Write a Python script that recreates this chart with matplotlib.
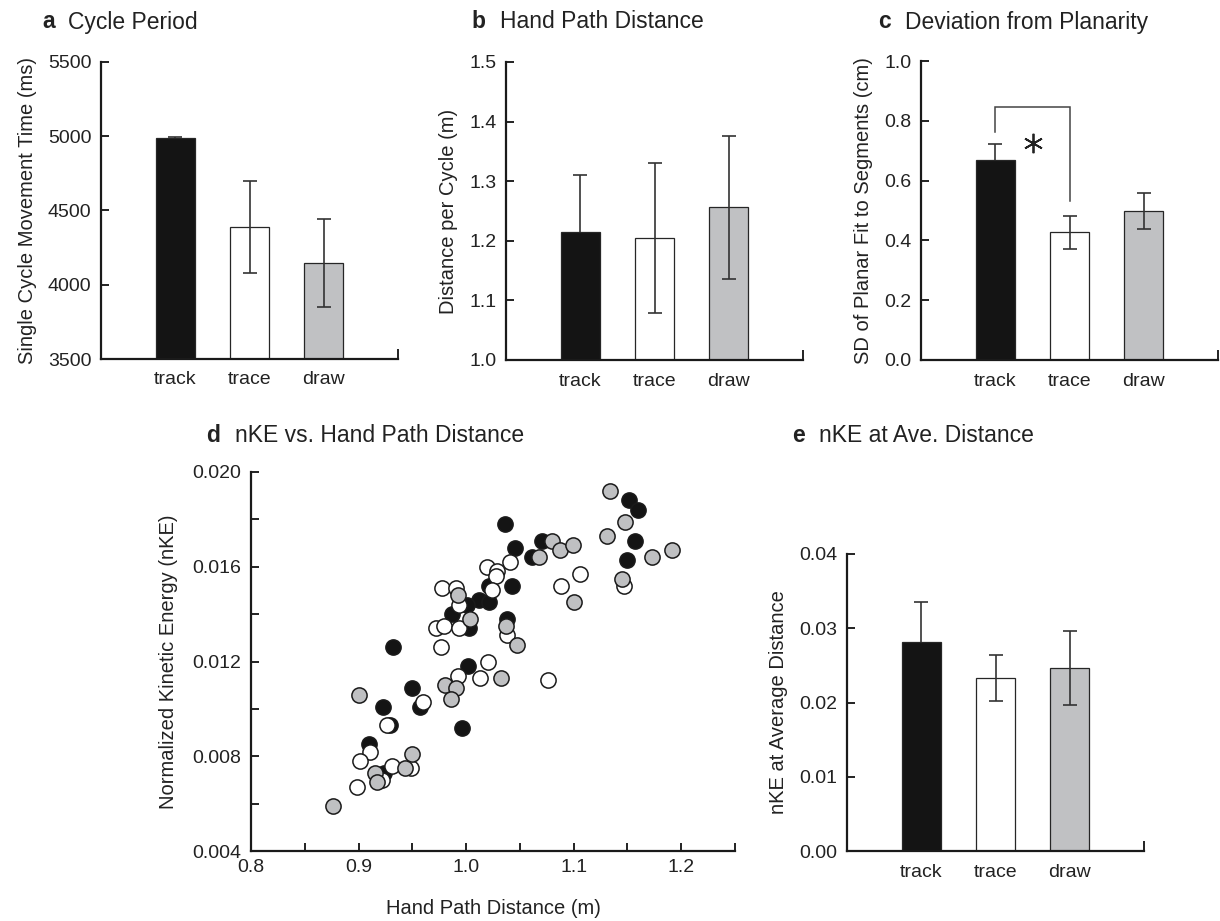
import numpy as np
import matplotlib
matplotlib.use('Agg')
import matplotlib.pyplot as plt

plt.rcParams['font.family'] = ['Liberation Sans', 'DejaVu Sans']
plt.rcParams['text.color'] = '#222222'
plt.rcParams['axes.labelcolor'] = '#222222'
plt.rcParams['xtick.color'] = '#222222'
plt.rcParams['ytick.color'] = '#222222'

# conditions and bar colours
conditions = ['track', 'trace', 'draw']
bar_colors = ['#141414', '#ffffff', '#c0c1c3']

# group means and error bars
cycle_period = [4985, 4390, 4148]
cycle_period_err = [7, 308, 295]
path_distance = [1.214, 1.205, 1.256]
path_distance_err = [0.097, 0.126, 0.120]
planarity_sd = [0.668, 0.427, 0.499]
planarity_sd_err = [0.053, 0.055, 0.061]
nke_avg = [0.0281, 0.0233, 0.0246]
nke_avg_err = [0.0055, 0.0031, 0.0050]

# per-trial hand path distance (m) and nKE
track_dist = [1.036, 1.045, 1.043, 1.021, 1.012, 1.021, 1.001, 0.987, 1.003, 1.038,
              0.932, 1.151, 1.160, 1.157, 1.150, 1.071, 1.061, 1.002, 0.950, 0.923,
              0.957, 0.929, 0.996, 0.910, 0.924]
track_nke = [0.0178, 0.0168, 0.0152, 0.0152, 0.0146, 0.0145, 0.0144, 0.0140, 0.0134, 0.0138,
             0.0126, 0.0188, 0.0184, 0.0171, 0.0163, 0.0171, 0.0164, 0.0118, 0.0109, 0.0101,
             0.0101, 0.0093, 0.0092, 0.0085, 0.0073]
trace_dist = [1.019, 1.041, 1.029, 1.028, 1.024, 0.978, 0.991, 0.993, 0.972, 0.979,
              0.993, 1.038, 0.977, 1.147, 1.106, 1.088, 1.020, 0.992, 1.013, 0.960,
              0.926, 0.911, 0.901, 0.931, 0.949, 0.922, 0.899, 1.076]
trace_nke = [0.0160, 0.0162, 0.0158, 0.0156, 0.0150, 0.0151, 0.0151, 0.0144, 0.0134, 0.0135,
             0.0134, 0.0131, 0.0126, 0.0152, 0.0157, 0.0152, 0.0120, 0.0114, 0.0113, 0.0103,
             0.0093, 0.0082, 0.0078, 0.0076, 0.0075, 0.0070, 0.0067, 0.0112]
draw_dist = [0.992, 1.004, 1.037, 1.047, 1.134, 1.148, 1.131, 1.173, 1.191, 1.145,
             1.080, 1.087, 1.099, 1.068, 1.100, 1.032, 0.980, 0.991, 0.986, 0.900,
             0.950, 0.943, 0.915, 0.917, 0.876]
draw_nke = [0.0148, 0.0138, 0.0135, 0.0127, 0.0192, 0.0179, 0.0173, 0.0164, 0.0167, 0.0155,
            0.0171, 0.0167, 0.0169, 0.0164, 0.0145, 0.0113, 0.0110, 0.0109, 0.0104, 0.0106,
            0.0081, 0.0075, 0.0073, 0.0069, 0.0059]

W, H = 1220, 921


def px_axes(fig, left, top, right, bottom):
    return fig.add_axes([left / W, 1 - bottom / H, (right - left) / W, (bottom - top) / H])


def style_axes(ax):
    for s in ['top', 'right']:
        ax.spines[s].set_visible(False)
    for s in ['left', 'bottom']:
        ax.spines[s].set_linewidth(1.6)
        ax.spines[s].set_color('#1a1a1a')


def bar_panel(ax, values, errors, ylim, yticks, fmt, ylabel):
    x = np.arange(1, 4)
    ax.bar(x, values, width=0.52, color=bar_colors, edgecolor='#262626',
           linewidth=0.9, zorder=2)
    # the black bar hides the lower half of its own error bar
    for xi, v, e, z in zip(x, values, errors, [1, 3, 3]):
        ax.errorbar([xi], [v], yerr=[e], fmt='none', ecolor='#333333',
                    elinewidth=1.2, capsize=5, capthick=1.2, zorder=z)
    ax.set_xlim(0, 4)
    ax.set_ylim(*ylim)
    ax.set_yticks(yticks)
    ax.set_yticklabels([fmt.format(v) for v in yticks])
    ax.set_xticks(x)
    ax.set_xticklabels(conditions)
    ax.set_xticks([4], minor=True)
    ax.tick_params(axis='x', which='major', length=0, pad=9, labelsize=14)
    ax.tick_params(axis='x', which='minor', direction='in', length=7, width=1.4)
    ax.tick_params(axis='y', direction='in', length=6, width=1.4, pad=7, labelsize=14)
    ax.set_ylabel(ylabel, fontsize=14.5, labelpad=8)
    style_axes(ax)


fig = plt.figure(figsize=(W / 100, H / 100), dpi=100)

ax_a = px_axes(fig, 101, 62, 398, 359)
bar_panel(ax_a, cycle_period, cycle_period_err, (3500, 5500),
          np.arange(3500, 5501, 500), '{:.0f}', 'Single Cycle Movement Time (ms)')

ax_b = px_axes(fig, 506, 62, 803, 360)
bar_panel(ax_b, path_distance, path_distance_err, (1.0, 1.5),
          np.round(np.arange(1.0, 1.51, 0.1), 1), '{:.1f}', 'Distance per Cycle (m)')

ax_c = px_axes(fig, 921, 61, 1218, 360)
bar_panel(ax_c, planarity_sd, planarity_sd_err, (0.0, 1.0),
          np.round(np.arange(0.0, 1.01, 0.2), 1), '{:.1f}', 'SD of Planar Fit to Segments (cm)')

# significance bracket between track and trace
ax_c.plot([1, 1, 2, 2], [0.763, 0.846, 0.846, 0.532], color='#444444', lw=1.1,
          solid_joinstyle='miter', zorder=4)
ax_c.plot([1.51], [0.726], marker=(6, 2, 0), markersize=14, mew=1.3,
          color='#222222', zorder=4)

ax_e = px_axes(fig, 847, 554, 1144, 851)
bar_panel(ax_e, nke_avg, nke_avg_err, (0.0, 0.04),
          np.round(np.arange(0.0, 0.041, 0.01), 2), '{:.2f}', 'nKE at Average Distance')

# scatter of nKE against hand path distance
ax_d = px_axes(fig, 251, 472, 735, 851)
for xs, ys, c in [(track_dist, track_nke, '#141414'),
                  (trace_dist, trace_nke, '#ffffff'),
                  (draw_dist, draw_nke, '#bfc0c2')]:
    ax_d.scatter(xs, ys, s=120, c=c, edgecolors='#1a1a1a', linewidths=1.1, zorder=3)
ax_d.set_xlim(0.8, 1.25)
ax_d.set_ylim(0.004, 0.020)
xt = np.round(np.arange(0.8, 1.2501, 0.05), 2)
ax_d.set_xticks(xt)
ax_d.set_xticklabels(['{:.1f}'.format(v) if i % 2 == 0 else '' for i, v in enumerate(xt)])
yt = np.round(np.arange(0.004, 0.02001, 0.002), 3)
ax_d.set_yticks(yt)
ax_d.set_yticklabels(['{:.3f}'.format(v) if i % 2 == 0 else '' for i, v in enumerate(yt)])
ax_d.tick_params(axis='both', direction='in', length=6, width=1.4, labelsize=14)
ax_d.tick_params(axis='x', pad=6)
ax_d.tick_params(axis='y', pad=7)
ax_d.set_xlabel('Hand Path Distance (m)', fontsize=14.5, labelpad=16)
ax_d.set_ylabel('Normalized Kinetic Energy (nKE)', fontsize=14.5, labelpad=10)
style_axes(ax_d)

# panel titles
titles = [('a', 'Cycle Period', 42, 68, 22),
          ('b', 'Hand Path Distance', 471, 500, 22),
          ('c', 'Deviation from Planarity', 878, 905, 22),
          ('d', 'nKE vs. Hand Path Distance', 206, 235, 435),
          ('e', 'nKE at Ave. Distance', 792, 819, 435)]
for letter, text, lx, tx, ty in titles:
    fig.text(lx / W, 1 - ty / H, letter, fontsize=16.5, fontweight='bold', va='center', ha='left')
    fig.text(tx / W, 1 - ty / H, text, fontsize=16.5, va='center', ha='left')

fig.savefig('out.png', dpi=100)
